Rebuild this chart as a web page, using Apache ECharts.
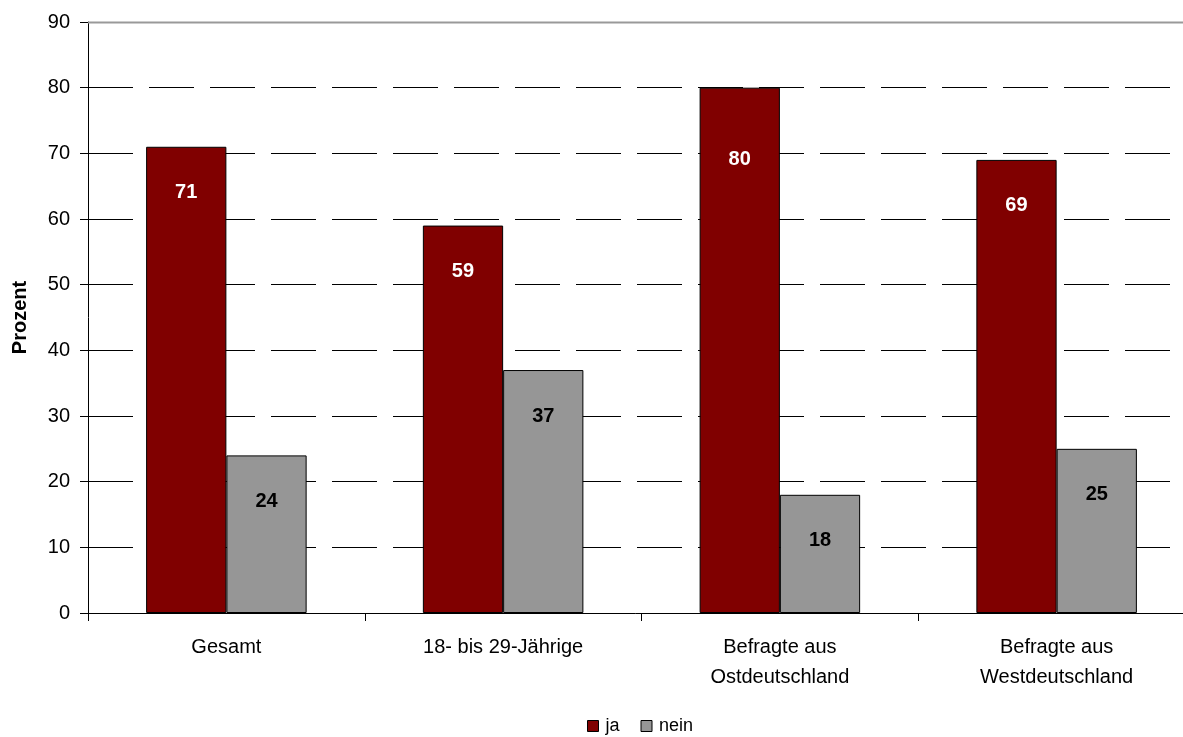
<!DOCTYPE html>
<html><head><meta charset="utf-8">
<script src="https://cdn.jsdelivr.net/npm/echarts@6/dist/echarts.min.js"></script>
<style>html,body{margin:0;padding:0;background:#fff}#c{width:1183px;height:737px}</style>
</head><body><div id="c"></div>
<script>
const categories = ["Gesamt", "18- bis 29-Jährige", "Befragte aus\nOstdeutschland", "Befragte aus\nWestdeutschland"];
const jaValues = [71, 59, 80, 69];
const neinValues = [24, 37, 18, 25];
const yTicks = [0, 10, 20, 30, 40, 50, 60, 70, 80, 90];
const seriesNames = ["ja", "nein"];
const font = "Liberation Sans, Arial, sans-serif";
const chart = echarts.init(document.getElementById('c'));
const jaData = jaValues.map((v, i) => i === 2 ? {value: v, label: {distance: 62}} : v);
chart.setOption({
  animation: false,
  grid: {left: 88, right: -12, top: 22, bottom: 124, containLabel: false, outerBoundsMode: 'none'},
  xAxis: {
    type: 'category', data: categories,
    axisLine: {lineStyle: {color: '#000', width: 1}},
    axisTick: {show: true, alignWithLabel: false, length: 8, lineStyle: {color: '#000'}},
    axisLabel: {color: '#000', fontFamily: font, fontSize: 20, lineHeight: 30, margin: 19}
  },
  yAxis: {
    type: 'value', min: yTicks[0], max: yTicks[yTicks.length - 1], interval: 10,
    name: 'Prozent', nameLocation: 'middle', nameGap: 58, nameRotate: 90,
    nameTextStyle: {fontFamily: font, fontSize: 20, fontWeight: 'bold', color: '#000'},
    axisLine: {show: true, lineStyle: {color: '#000'}},
    axisTick: {show: true, length: 8, lineStyle: {color: '#000'}},
    axisLabel: {color: '#000', fontFamily: font, fontSize: 20, margin: 18},
    splitLine: {show: true, lineStyle: {color: '#000', type: [45, 16], width: 1}}
  },
  legend: {
    top: 717, left: 587, itemWidth: 11, itemHeight: 11, itemGap: 21, padding: 0,
    textStyle: {fontFamily: font, fontSize: 18, color: '#000', padding: [0,0,0,2]},
    data: seriesNames.map(n => ({name: n, icon: 'rect', itemStyle: {borderColor: '#000', borderWidth: 1}}))
  },
  series: [
    {name: seriesNames[0], type: 'bar', data: jaData, barGap: '0%', barCategoryGap: '42%',
     itemStyle: {color: '#800000', borderColor: '#000', borderWidth: 1},
     label: {show: true, position: 'insideTop', distance: 36, color: '#fff', fontFamily: font, fontSize: 20, fontWeight: 'bold'}},
    {name: seriesNames[1], type: 'bar', data: neinValues,
     itemStyle: {color: '#969696', borderColor: '#000', borderWidth: 1},
     label: {show: true, position: 'insideTop', distance: 36, color: '#000', fontFamily: font, fontSize: 20, fontWeight: 'bold'}}
  ],
  graphic: [{type: 'line', shape: {x1: 88, y1: 22.5, x2: 1183, y2: 22.5}, style: {stroke: '#999', lineWidth: 2}, z: 10}]
});
</script></body></html>
